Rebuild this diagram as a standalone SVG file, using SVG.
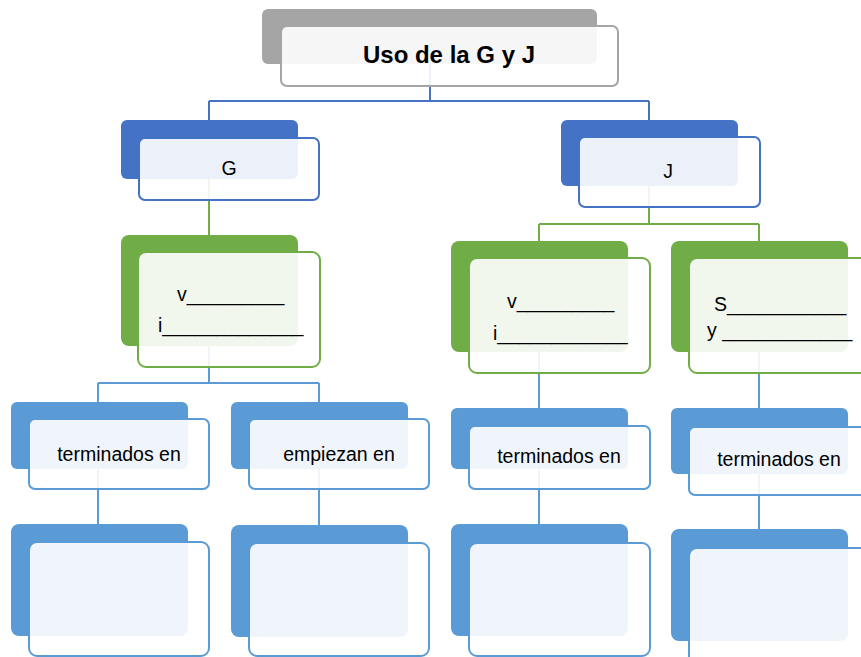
<svg xmlns="http://www.w3.org/2000/svg" width="861" height="657" viewBox="0 0 861 657">
<style>
.bg{fill:#fff}
.f{fill:#fff;fill-opacity:0.9;stroke-width:2}
.gray .b{fill:#A5A5A5}.gray .f{stroke:#A5A5A5}
.dblue .b{fill:#4472C4}.dblue .f{stroke:#4472C4}
.green .b{fill:#70AD47}.green .f{stroke:#70AD47}
.lblue .b{fill:#5B9BD5}.lblue .f{stroke:#5B9BD5}
text{font-family:"Liberation Sans",Arial,sans-serif;font-size:19.5px;fill:#000}
.t{font-weight:bold;font-size:24px}
.c{fill:none;stroke-width:2}
</style>
<rect class="bg" x="0" y="0" width="861" height="657"/>
<g id="connectors">
<path class="c" stroke="#4472C4" d="M430,64V101M209,101H649M209,101V120M649,101V120"/>
<path class="c" stroke="#70AD47" d="M209,179V235M649,186V224M539,224H759M539,224V241M759,224V241"/>
<path class="c" stroke="#5B9BD5" d="M209,346V383M98,383H319M98,383V402M319,383V402"/>
<path class="c" stroke="#5B9BD5" d="M539,352V408M759,352V408"/>
<path class="c" stroke="#5B9BD5" d="M98,469V524M319,469V525M539,469V524M759,474V529"/>
</g>
<g id="n-title" class="gray">
<rect class="b" x="262" y="9" width="335" height="55" rx="6"/>
<rect class="f" x="281" y="26" width="337" height="60" rx="6"/>
<text class="t" x="449" y="63" text-anchor="middle">Uso de la G y J</text>
</g>
<g id="n-G" class="dblue">
<rect class="b" x="121" y="120" width="177" height="59" rx="6"/>
<rect class="f" x="139" y="138" width="180" height="62" rx="6"/>
<text x="229" y="175" text-anchor="middle">G</text>
</g>
<g id="n-J" class="dblue">
<rect class="b" x="561" y="120" width="177" height="66" rx="6"/>
<rect class="f" x="579" y="137" width="181" height="70" rx="6"/>
<text x="668" y="178" text-anchor="middle">J</text>
</g>
<g id="n-G-vi" class="green">
<rect class="b" x="121" y="235" width="177" height="111" rx="8"/>
<rect class="f" x="138" y="252" width="182" height="115" rx="8"/>
<text x="177" y="301">v_________</text>
<text x="158" y="332">i_____________</text>
</g>
<g id="n-J-vi" class="green">
<rect class="b" x="451" y="241" width="177" height="111" rx="8"/>
<rect class="f" x="469" y="258" width="181" height="115" rx="8"/>
<text x="507" y="308">v_________</text>
<text x="493" y="340">i____________</text>
</g>
<g id="n-J-sy" class="green">
<rect class="b" x="671" y="241" width="177" height="111" rx="8"/>
<rect class="f" x="689" y="258" width="181" height="115" rx="8"/>
<text x="714" y="311">S___________</text>
<text x="707" y="337">y ____________</text>
</g>
<g id="n-G-term" class="lblue">
<rect class="b" x="11" y="402" width="177" height="67" rx="6"/>
<rect class="f" x="29" y="419" width="180" height="70" rx="6"/>
<text x="119" y="461" text-anchor="middle">terminados en</text>
</g>
<g id="n-G-emp" class="lblue">
<rect class="b" x="231" y="402" width="177" height="67" rx="6"/>
<rect class="f" x="249" y="419" width="180" height="70" rx="6"/>
<text x="339" y="461" text-anchor="middle">empiezan en</text>
</g>
<g id="n-J-term1" class="lblue">
<rect class="b" x="451" y="408" width="177" height="61" rx="6"/>
<rect class="f" x="469" y="426" width="181" height="63" rx="6"/>
<text x="559" y="463" text-anchor="middle">terminados en</text>
</g>
<g id="n-J-term2" class="lblue">
<rect class="b" x="671" y="408" width="177" height="66" rx="6"/>
<rect class="f" x="689" y="427" width="181" height="68" rx="6"/>
<text x="779" y="466" text-anchor="middle">terminados en</text>
</g>
<g id="n-b1" class="lblue">
<rect class="b" x="11" y="524" width="177" height="112" rx="8"/>
<rect class="f" x="29" y="542" width="180" height="114" rx="8"/>
</g>
<g id="n-b2" class="lblue">
<rect class="b" x="231" y="525" width="177" height="112" rx="8"/>
<rect class="f" x="249" y="543" width="180" height="113" rx="8"/>
</g>
<g id="n-b3" class="lblue">
<rect class="b" x="451" y="524" width="177" height="112" rx="8"/>
<rect class="f" x="469" y="543" width="181" height="113" rx="8"/>
</g>
<g id="n-b4" class="lblue">
<rect class="b" x="671" y="529" width="177" height="112" rx="8"/>
<rect class="f" x="689" y="548" width="181" height="120" rx="8"/>
</g>
</svg>
